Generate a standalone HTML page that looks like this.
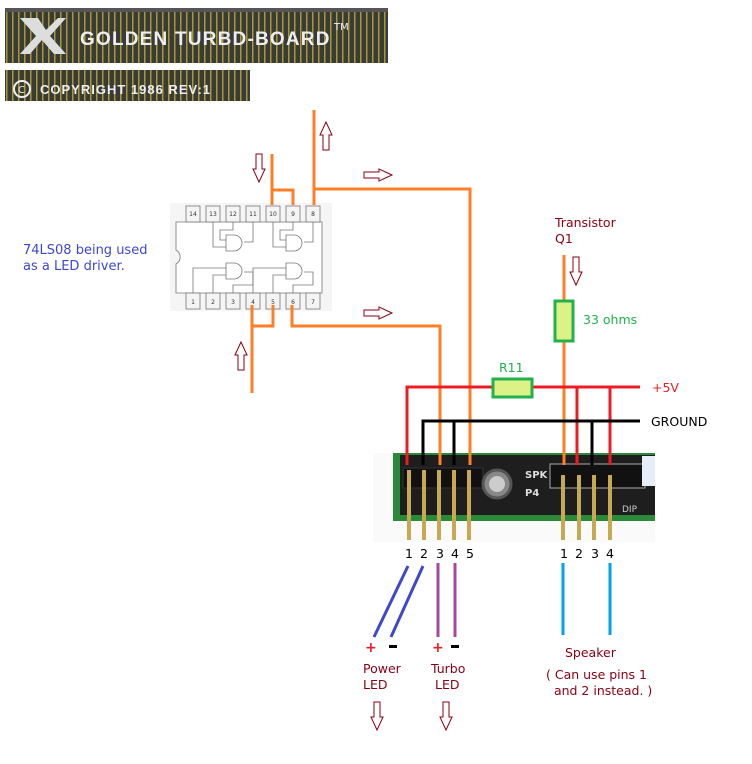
<!DOCTYPE html>
<html><head><meta charset="utf-8"><style>
body{margin:0;width:752px;height:764px;background:#fff;overflow:hidden;position:relative;font-family:"DejaVu Sans","Liberation Sans",sans-serif}
.t{position:absolute;font-size:12.5px;line-height:16px;white-space:nowrap}
</style></head><body>
<svg width="752" height="764" style="position:absolute;left:0;top:0" font-family="DejaVu Sans, Liberation Sans, sans-serif">
<defs>
<pattern id="pcb" width="6" height="10" patternUnits="userSpaceOnUse"><rect width="6" height="10" fill="#3a3a3a"/><rect x="0" width="1.5" height="10" fill="#a59a2c"/></pattern>
</defs>
<rect x="5" y="8" width="383" height="55" fill="url(#pcb)"/>
<rect x="5" y="8" width="383" height="4" fill="#555"/>
<polygon points="20,18 38,18 46,30 58,18 66,18 50,36 66,54 54,54 42,40 30,54 20,54 36,36" fill="#ddd"/>
<text x="80" y="45" font-size="19" fill="#eee" font-weight="bold" font-family="Liberation Sans, sans-serif" letter-spacing="1.2">GOLDEN TURBD-BOARD</text>
<text x="334" y="30" font-size="10" fill="#eee">TM</text>
<rect x="5" y="70" width="245" height="31" fill="url(#pcb)"/>
<circle cx="22" cy="89" r="8" fill="none" stroke="#eee" stroke-width="2"/>
<text x="18" y="93" font-size="10" fill="#eee">C</text>
<text x="40" y="94" font-size="13" font-weight="bold" fill="#eee" letter-spacing="1" font-family="Liberation Sans, sans-serif">COPYRIGHT 1986  REV:1</text>

<g stroke="#777" stroke-width="0.8">
<rect x="170" y="203" width="162" height="108" fill="#f5f5f5" stroke="none"/>
<path d="M176,222 H322 V293 H176 V264 A8,8 0 0 0 176,250 Z" fill="#fff"/>
<g fill="#f4f4f4">
<rect x="186" y="206" width="14" height="16"/><rect x="206" y="206" width="14" height="16"/><rect x="226" y="206" width="14" height="16"/><rect x="246" y="206" width="14" height="16"/><rect x="266" y="206" width="14" height="16"/><rect x="286" y="206" width="14" height="16"/><rect x="306" y="206" width="14" height="16"/>
<rect x="186" y="293" width="14" height="16"/><rect x="206" y="293" width="14" height="16"/><rect x="226" y="293" width="14" height="16"/><rect x="246" y="293" width="14" height="16"/><rect x="266" y="293" width="14" height="16"/><rect x="286" y="293" width="14" height="16"/><rect x="306" y="293" width="14" height="16"/>
</g>
<g fill="none">
<path d="M213,222 V247 H226 M233,222 V230 H220 V240 H226 M253,222 V242 H244"/>
<path d="M226,235 H234 A8,8 0 0 1 234,251 H226 Z" fill="#fff"/>
<path d="M273,222 V247 H286 M293,222 V230 H280 V240 H286 M313,222 V242 H304"/>
<path d="M286,235 H294 A8,8 0 0 1 294,251 H286 Z" fill="#fff"/>
<path d="M193,293 V268 H226 M213,293 V275 H226 M233,293 V285 H253 V272 H244"/>
<path d="M226,263 H234 A8,8 0 0 1 234,279 H226 Z" fill="#fff"/>
<path d="M253,293 V268 H286 M273,293 V275 H286 M293,293 V285 H313 V272 H304"/>
<path d="M286,263 H294 A8,8 0 0 1 294,279 H286 Z" fill="#fff"/>
</g>
</g>
<g font-size="6" fill="#333" text-anchor="middle">
<text x="193" y="216">14</text><text x="213" y="216">13</text><text x="233" y="216">12</text><text x="253" y="216">11</text><text x="273" y="216">10</text><text x="293" y="216">9</text><text x="313" y="216">8</text>
<text x="193" y="304">1</text><text x="213" y="304">2</text><text x="233" y="304">3</text><text x="253" y="304">4</text><text x="273" y="304">5</text><text x="293" y="304">6</text><text x="313" y="304">7</text>
</g>

<rect x="373" y="453" width="282" height="89" fill="#fafafa"/>
<rect x="393" y="453" width="262" height="68" fill="#2a8a3a"/>
<rect x="400" y="455" width="255" height="60" fill="#1e1e1e"/>
<rect x="403" y="468" width="80" height="20" fill="#111" stroke="#333"/>
<circle cx="497" cy="484" r="14" fill="#888" stroke="#555" stroke-width="3"/>
<circle cx="497" cy="484" r="8" fill="#ccc"/>
<rect x="550" y="464" width="95" height="24" fill="#111" stroke="#aaa"/>
<rect x="642" y="456" width="13" height="30" fill="#e8eef8"/>
<text x="525" y="478" font-size="10" fill="#ddd" font-weight="bold">SPK</text>
<text x="525" y="496" font-size="10" fill="#ddd" font-weight="bold">P4</text>
<text x="622" y="512" font-size="9" fill="#ccc">DIP</text>
<g stroke="#c8a850" stroke-width="4">
<line x1="409" y1="470" x2="409" y2="540"/><line x1="424" y1="470" x2="424" y2="540"/><line x1="439" y1="470" x2="439" y2="540"/><line x1="454" y1="470" x2="454" y2="540"/><line x1="469" y1="470" x2="469" y2="540"/>
<line x1="563" y1="475" x2="563" y2="540"/><line x1="579" y1="475" x2="579" y2="540"/><line x1="594" y1="475" x2="594" y2="540"/><line x1="610" y1="475" x2="610" y2="540"/>
</g>

<g fill="none" stroke-width="3">
<path d="M272,154 V205 M272,190 H293 V205" stroke="#ff7f27"/>
<path d="M314,110 V205 M314,189 H470 V465" stroke="#ff7f27"/>
<path d="M252,305 V393 M252,326 H273 V305" stroke="#ff7f27"/>
<path d="M292,305 V326 H440 V465" stroke="#ff7f27"/>
<path d="M564,255 V465" stroke="#ff7f27"/>
<path d="M407,465 V387 H640 M577,387 V465 M610,387 V465" stroke="#ed1c24"/>
<path d="M423,465 V421 H640 M454,421 V465 M592,421 V465" stroke="#000"/>
<line x1="408" y1="566" x2="374" y2="637" stroke="#3f48cc"/>
<line x1="423" y1="566" x2="391" y2="637" stroke="#3f48cc"/>
<line x1="438" y1="563" x2="438" y2="637" stroke="#a349a4"/>
<line x1="455" y1="563" x2="455" y2="637" stroke="#a349a4"/>
<line x1="563" y1="563" x2="563" y2="635" stroke="#00a2e8"/>
<line x1="610" y1="563" x2="610" y2="635" stroke="#00a2e8"/>
</g>
<rect x="493" y="379" width="39" height="18" fill="#dcf287" stroke="#22b14c" stroke-width="3"/>
<rect x="555" y="301" width="18" height="40" fill="#dcf287" stroke="#22b14c" stroke-width="3"/>

<g fill="#fff" stroke="#880015" stroke-width="1">
<polygon points="326,122 332,135 329,135 329,150 323,150 323,135 320,135"/>
<polygon points="259,182 265,169 262,169 262,154 256,154 256,169 253,169"/>
<polygon points="392,175 379,169 379,172 364,172 364,178 379,178 379,181"/>
<polygon points="392,313 379,307 379,310 364,310 364,316 379,316 379,319"/>
<polygon points="241,342 247,355 244,355 244,370 238,370 238,355 235,355"/>
<polygon points="576,285 582,272 579,272 579,257 573,257 573,272 570,272"/>
<polygon points="377,730 383,717 380,717 380,702 374,702 374,717 371,717"/>
<polygon points="446,730 452,717 449,717 449,702 443,702 443,717 440,717"/>
</g>

<g font-size="12.5" fill="#000" text-anchor="middle">
<text x="409" y="558">1</text><text x="424" y="558">2</text><text x="440" y="558">3</text><text x="455" y="558">4</text><text x="470" y="558">5</text>
<text x="564" y="558">1</text><text x="579" y="558">2</text><text x="595" y="558">3</text><text x="610" y="558">4</text>
</g>
<text x="365" y="652" font-size="14" fill="#ed1c24" font-weight="bold">+</text>
<rect x="389" y="645" width="8" height="3" fill="#000"/>
<text x="432" y="652" font-size="14" fill="#ed1c24" font-weight="bold">+</text>
<rect x="451" y="645" width="8" height="3" fill="#000"/>
</svg>
<div class="t" style="left:23px;top:243px;color:#3f48cc;font-size:13px">74LS08 being used<br>as a LED driver.</div>
<div class="t" style="left:555px;top:215px;color:#880015">Transistor<br>Q1</div>
<div class="t" style="left:583px;top:312px;color:#22b14c">33 ohms</div>
<div class="t" style="left:499px;top:360px;color:#22b14c">R11</div>
<div class="t" style="left:652px;top:380px;color:#ed1c24">+5V</div>
<div class="t" style="left:651px;top:414px;color:#000">GROUND</div>
<div class="t" style="left:363px;top:661px;color:#880015">Power<br>LED</div>
<div class="t" style="left:431px;top:661px;color:#880015">Turbo<br>&nbsp;LED</div>
<div class="t" style="left:565px;top:645px;color:#880015">Speaker</div>
<div class="t" style="left:546px;top:667px;color:#880015">( Can use pins 1<br>&nbsp;&nbsp;and 2 instead. )</div>
</body></html>
